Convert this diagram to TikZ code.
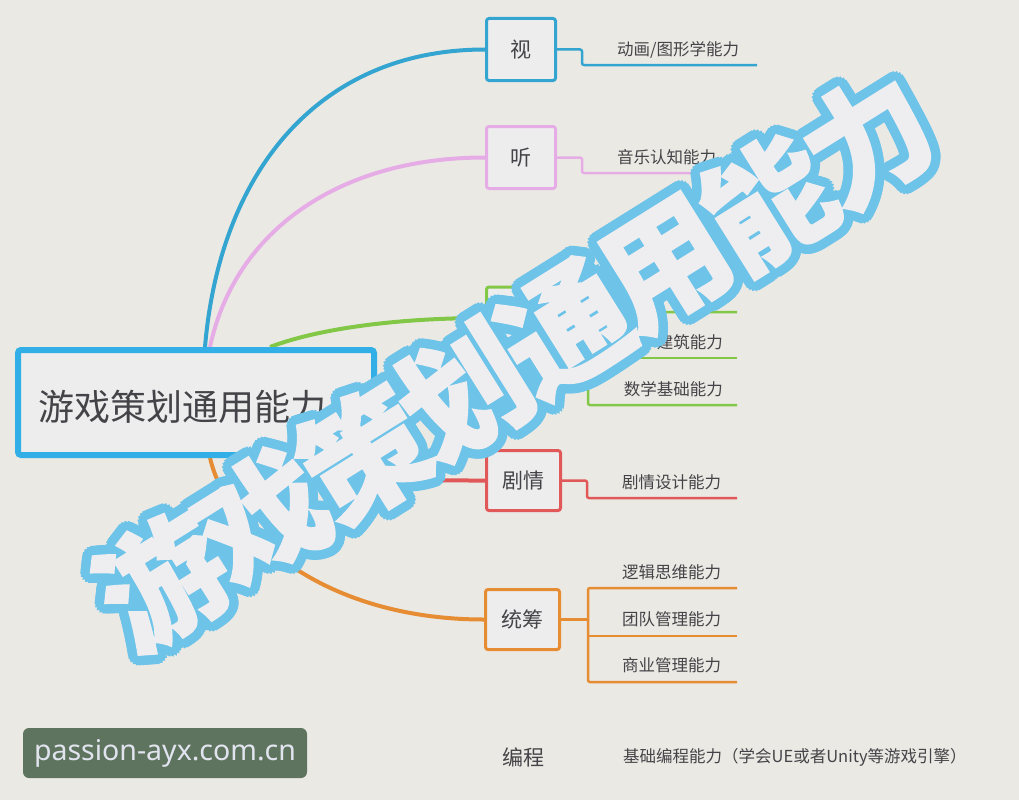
\documentclass[tikz,border=0pt]{standalone}
\usepackage{fontspec}
\usetikzlibrary{calc}
\newfontfamily\cjk{Noto Sans CJK SC}
\newfontfamily\wsans{Noto Sans}
\definecolor{bgc}{RGB}{235,233,228}
\definecolor{boxfill}{RGB}{237,237,238}
\definecolor{txt}{RGB}{68,68,72}
\definecolor{cblue}{RGB}{52,165,208}
\definecolor{croot}{RGB}{50,175,230}
\definecolor{cpink}{RGB}{230,172,230}
\definecolor{cgreen}{RGB}{130,200,70}
\definecolor{cred}{RGB}{225,88,88}
\definecolor{corange}{RGB}{230,140,50}
\definecolor{wmblue}{RGB}{110,195,232}
\definecolor{wmwhite}{RGB}{238,238,241}
\definecolor{tagbg}{RGB}{94,116,94}
\definecolor{tagtxt}{RGB}{225,228,238}
\tikzset{
  branchbox/.style={draw, line width=3pt, fill=boxfill, rounded corners=2.5pt, minimum width=69pt, minimum height=62pt, inner sep=0pt, text=txt, font=\cjk\fontsize{21}{21}\selectfont},
  widebox/.style={branchbox, minimum width=74pt, minimum height=60pt},
  itemtext/.style={anchor=west, inner sep=0pt, text=txt, font=\cjk\fontsize{16.5}{16.5}\selectfont},
  curveline/.style={line width=4pt},
  subline/.style={line width=2.5pt, rounded corners=2pt},
  wmtext/.style={rotate=32, inner sep=0pt, font=\cjk\bfseries\addfontfeature{FakeBold=1.2}\fontsize{126}{126}\selectfont}
}
\begin{document}
\begin{tikzpicture}[x=1pt,y=-1pt]
\useasboundingbox (0,0) rectangle (1019,800);
\fill[bgc] (0,0) rectangle (1019,800);

% root curves start points
\coordinate (rb) at (205,347);
\coordinate (rp) at (210,347);
\coordinate (rg) at (270,347);
\coordinate (rr) at (330,458);
\coordinate (ro) at (210,458);

% branch boxes
\node[branchbox, draw=cblue] (v) at (521,49.5) {视};
\node[branchbox, draw=cpink] (t) at (521,157.5) {听};
\node[branchbox, draw=cgreen] (g) at (521,318) {};
\node[widebox, draw=cred] (j) at (523.5,480.5) {剧情};
\node[widebox, draw=corange] (s) at (522.5,619.5) {统筹};
\node[inner sep=0pt, text=txt, font=\cjk\fontsize{21}{21}\selectfont] (b) at (523,757) {编程};

% curves
\draw[cblue, curveline] (rb) .. controls (220,170) and (320,49.5) .. (v.west);
\draw[cpink, curveline] (rp) .. controls (235,230) and (340,157.5) .. (t.west);
\draw[cgreen, curveline] (rg) .. controls (320,328) and (400,318) .. (g.west);
\draw[cred, curveline] (rr) .. controls (345,480.5) and (400,480.5) .. (j.west);
\draw[corange, curveline] (ro) .. controls (230,540) and (330,619.5) .. (s.west);

% root box
\node[draw=croot, line width=6pt, fill=boxfill, rounded corners=3pt, minimum width=356pt, minimum height=105pt, inner sep=0pt] (root) at (196,402.5) {};
\node[anchor=west, inner sep=0pt, text=txt, font=\cjk\fontsize{36}{36}\selectfont] (roottext) at (38,407) {游戏策划通用能力};

% 视 sub
\coordinate (v1) at (582,49.5); \coordinate (v2) at (582,65); \coordinate (v3) at (757,65);
\draw[cblue, subline] (v.east) -- (v1) -- (v2) -- (v3);
\node[itemtext] (vt) at (617,50) {动画/图形学能力};

% 听 sub
\coordinate (t1) at (582,157.5); \coordinate (t2) at (582,173); \coordinate (t3) at (757,173);
\draw[cpink, subline] (t.east) -- (t1) -- (t2) -- (t3);
\node[itemtext] (tt) at (617,157) {音乐认知能力};

% green sub
\coordinate (g0) at (588,318);
\coordinate (ga) at (588,312); \coordinate (gae) at (737,312);
\coordinate (gb) at (588,358); \coordinate (gbe) at (737,358);
\coordinate (gc) at (588,405); \coordinate (gce) at (737,405);
\draw[cgreen, subline] (g.east) -- (g0);
\draw[cgreen, subline] (gae) -- (ga) -- (gc) -- (gce);
\draw[cgreen, subline] (gb) -- (gbe);
\node[itemtext, anchor=east] (gtb) at (723,342) {建筑能力};
\node[itemtext, anchor=east] (gtc) at (723,389) {数学基础能力};

% 剧情 sub
\coordinate (j1) at (587,480.5); \coordinate (j2) at (587,498); \coordinate (j3) at (737,498);
\draw[cred, subline] (j.east) -- (j1) -- (j2) -- (j3);
\node[itemtext] (jt) at (622,482) {剧情设计能力};

% 统筹 sub
\coordinate (s0) at (588,619.5);
\coordinate (sa) at (588,588); \coordinate (sae) at (737,588);
\coordinate (sb) at (588,636); \coordinate (sbe) at (737,636);
\coordinate (sc) at (588,682); \coordinate (sce) at (737,682);
\draw[corange, subline] (s.east) -- (s0);
\draw[corange, subline] (sae) -- (sa) -- (sc) -- (sce);
\draw[corange, subline] (sb) -- (sbe);
\node[itemtext] (sta) at (622,572) {逻辑思维能力};
\node[itemtext] (stb) at (622,619) {团队管理能力};
\node[itemtext] (stc) at (622,665) {商业管理能力};

% 编程 sub
\node[itemtext] (bt) at (623,757) {基础编程能力（学会UE或者Unity等游戏引擎）};

% watermark: characters placed one by one along a 32 degree line
\coordinate (wmc) at (515,360);
\foreach \a [count=\i] in {0,20,...,340}{
  \foreach \c [count=\k] in {游,戏,策,划,通,用,能,力}{
    \node[wmtext, text=wmblue] (wmo\i-\k) at ($(wmc)+(\a:9.5)+({(\k-4.5)*100.9},{-(\k-4.5)*63.1})$) {\c};
  }
}
\foreach \a [count=\i] in {0,45,...,315}{
  \foreach \c [count=\k] in {游,戏,策,划,通,用,能,力}{
    \node[wmtext, text=wmblue] (wmi\i-\k) at ($(wmc)+(\a:4.5)+({(\k-4.5)*100.9},{-(\k-4.5)*63.1})$) {\c};
  }
}
\foreach \c [count=\k] in {游,戏,策,划,通,用,能,力}{
  \node[wmtext, text=wmwhite] (wm\k) at ($(wmc)+({(\k-4.5)*100.9},{-(\k-4.5)*63.1})$) {\c};
}

% site tag
\node[fill=tagbg, rounded corners=6pt, minimum width=284pt, minimum height=50pt, inner sep=0pt, text=tagtxt, font=\wsans\fontsize{28.5}{28.5}\selectfont] (tag) at (165,753) {passion-ayx.com.cn};
\end{tikzpicture}
\end{document}
